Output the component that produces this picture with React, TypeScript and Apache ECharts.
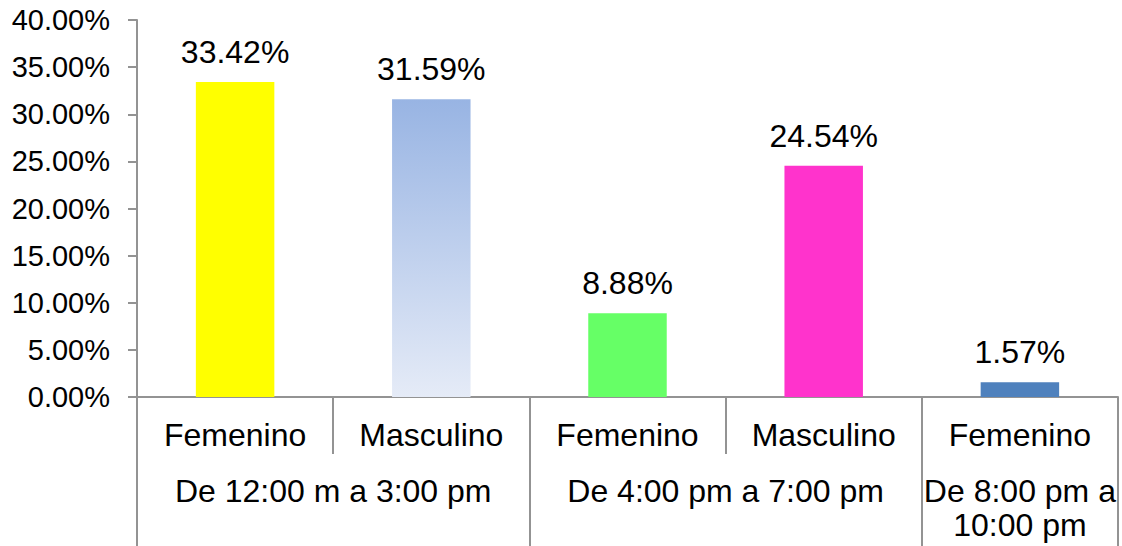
import React, { useEffect, useRef } from "react";
import * as echarts from "echarts";

// Percentages per sex within each time slot
const categories = ["Femenino", "Masculino", "Femenino", "Masculino", "Femenino"];
const values = [33.42, 31.59, 8.88, 24.54, 1.57];

// Time-slot groups and how many bars each spans
const groupLabels = ["De 12:00 m a 3:00 pm", "De 4:00 pm a 7:00 pm", "De 8:00 pm a\n10:00 pm"];
const groupSpans = [2, 2, 1];

const yTicks = [0, 5, 10, 15, 20, 25, 30, 35, 40];

const FONT = "'Liberation Sans', Arial, sans-serif";
const AXIS_GRAY = "#939393";

const barColors: any[] = [
  "#FFFF00",
  new echarts.graphic.LinearGradient(0, 0, 0, 1, [
    { offset: 0, color: "#98B4E3" },
    { offset: 1, color: "#E5EBF7" },
  ]),
  "#66FF66",
  "#FF33CC",
  "#4F81BD",
];

export default function App() {
  const ref = useRef<HTMLDivElement>(null);

  useEffect(() => {
    if (!ref.current) return;
    const chart = echarts.init(ref.current, undefined, { renderer: "svg" });

    // Group boundaries and centres on a 0..N value scale
    const bounds: number[] = [0];
    const centers: number[] = [];
    groupSpans.forEach((s) => {
      const start = bounds[bounds.length - 1];
      centers.push(start + s / 2);
      bounds.push(start + s);
    });
    const total = bounds[bounds.length - 1];

    chart.setOption({
      animation: false,
      grid: { left: 137, right: 4, top: 20, bottom: 149, containLabel: false },
      xAxis: [
        {
          type: "category",
          data: categories,
          position: "bottom",
          axisLine: { show: true, lineStyle: { color: AXIS_GRAY, width: 2 } },
          axisTick: {
            show: true,
            inside: false,
            length: 57,
            alignWithLabel: false,
            lineStyle: { color: AXIS_GRAY, width: 2 },
          },
          axisLabel: {
            interval: 0,
            margin: 22,
            color: "#000",
            fontFamily: FONT,
            fontSize: 32,
            lineHeight: 32,
          },
        },
        {
          type: "value",
          min: 0,
          max: total,
          position: "bottom",
          axisLine: { show: false },
          splitLine: { show: false },
          axisTick: {
            show: true,
            length: 149,
            customValues: bounds,
            lineStyle: { color: AXIS_GRAY, width: 2 },
          },
          axisLabel: {
            show: true,
            customValues: centers,
            margin: 77,
            verticalAlign: "top",
            color: "#000",
            fontFamily: FONT,
            fontSize: 32,
            lineHeight: 34,
            formatter: (v: number) => {
              const i = centers.indexOf(v);
              return i >= 0 ? groupLabels[i] : "";
            },
          },
        },
      ],
      yAxis: {
        type: "value",
        min: 0,
        max: 40,
        interval: 5,
        axisLine: { show: true, lineStyle: { color: AXIS_GRAY, width: 2 } },
        axisTick: { show: true, length: 9, lineStyle: { color: AXIS_GRAY, width: 2 } },
        splitLine: { show: false },
        axisLabel: {
          margin: 27,
          color: "#000",
          fontFamily: FONT,
          fontSize: 29,
          customValues: yTicks,
          formatter: (v: number) => v.toFixed(2) + "%",
        },
      },
      series: [
        {
          type: "bar",
          xAxisIndex: 0,
          barWidth: "40%",
          data: values.map((v, i) => ({ value: v, itemStyle: { color: barColors[i] } })),
          label: {
            show: true,
            position: "top",
            distance: 14,
            color: "#000",
            fontFamily: FONT,
            fontSize: 32,
            lineHeight: 32,
            formatter: (p: any) => p.value.toFixed(2) + "%",
          },
        },
      ],
    });

    return () => chart.dispose();
  }, []);

  return (
    <div
      ref={ref}
      style={{ position: "fixed", left: 0, top: 0, width: 1122, height: 546, background: "#fff" }}
    />
  );
}
